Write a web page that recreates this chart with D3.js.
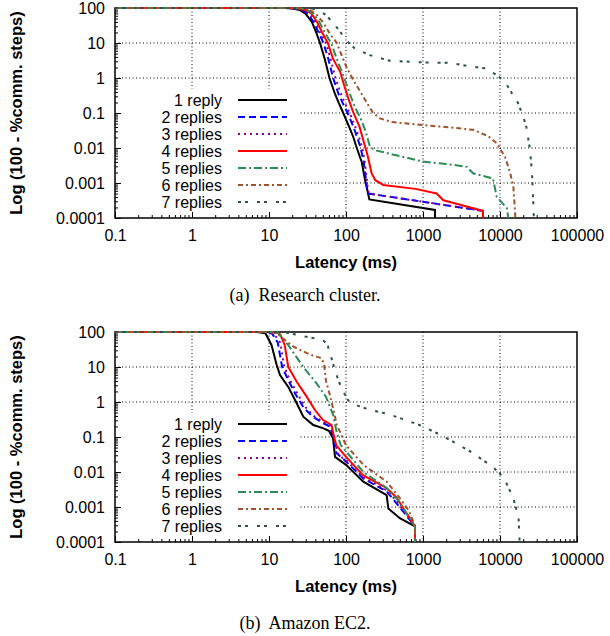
<!DOCTYPE html>
<html>
<head>
<meta charset="utf-8">
<script src="https://cdn.jsdelivr.net/npm/d3@7"></script>
<style>
  body { margin: 0; background: #fff; }
  svg text { font-family: "Liberation Sans", Arial, sans-serif; }
</style>
</head>
<body>
<svg id="chart" width="610" height="636"></svg>
<script>
// ── Data ──
const seriesNames = ['1 reply', '2 replies', '3 replies', '4 replies', '5 replies', '6 replies', '7 replies'];
const xTicks = [0.1, 1, 10, 100, 1000, 10000, 100000];
const xLabels = ['0.1', '1', '10', '100', '1000', '10000', '100000'];
const yTicks = [100, 10, 1, 0.1, 0.01, 0.001, 0.0001];
const yLabels = ['100', '10', '1', '0.1', '0.01', '0.001', '0.0001'];

// (a) research cluster: [latency ms, 100 - % comm. steps]
const research1 = [[0.1,100],[16,100],[20,97],[25,88],[30,68],[36,40],[41,20],[46,10],[53,3.5],[61,1],[72,0.35],[80,0.2],[92,0.1],[110,0.04],[125,0.02],[138,0.01],[160,0.004],[177,0.0012],[190,0.0006],[201,0.00034],[1430,0.00017],[1430,0.0001]];
const research2 = [[0.1,100],[17,100],[21,97],[27,88],[32,68],[38,40],[44,20],[51,10],[59,3.5],[68,1],[80,0.35],[92,0.18],[105,0.1],[125,0.04],[140,0.02],[155,0.01],[170,0.004],[180,0.0015],[188,0.0007],[195,0.0005],[6000,0.00016],[6000,0.0001]];
const research3 = [[0.1,100],[18,100],[22,97],[28,88],[34,68],[40,40],[46,20],[55,10],[63,3.5],[73,1],[86,0.35],[98,0.18],[112,0.1],[132,0.04],[148,0.02],[163,0.01],[175,0.004],[185,0.0015],[192,0.0007],[198,0.0005],[6000,0.00016],[6000,0.0001]];
const research4 = [[0.1,100],[19,100],[24,97],[30,88],[36,68],[42,40],[49,20],[58,10],[68,3.5],[84,1.5],[95,0.6],[108,0.25],[125,0.1],[150,0.04],[170,0.015],[185,0.008],[195,0.005],[205,0.003],[215,0.0019],[240,0.0012],[305,0.00088],[800,0.00068],[1500,0.0005],[1840,0.00032],[6000,0.00016],[6000,0.0001]];
const research5 = [[0.1,100],[20,100],[25,97],[31,88],[38,68],[45,40],[53,20],[64,10],[76,3.5],[92,1.2],[110,0.4],[130,0.15],[155,0.07],[180,0.03],[204,0.011],[230,0.009],[250,0.0084],[1000,0.0041],[2500,0.0033],[3700,0.0029],[4470,0.0019],[8100,0.00135],[9050,0.00041],[12300,0.00019],[12800,0.0001]];
const research6 = [[0.1,100],[22,100],[28,96],[35,85],[43,60],[52,35],[62,18],[76,10],[84,5.7],[100,2.2],[124,0.88],[160,0.35],[200,0.15],[226,0.1],[276,0.07],[400,0.055],[1000,0.045],[2500,0.038],[4470,0.033],[7000,0.022],[9050,0.0136],[11600,0.0056],[13500,0.002],[14900,0.0008],[15700,0.00014],[15800,0.0001]];
const research7 = [[0.1,100],[28,100],[36,97],[45,85],[55,63],[70,35],[84,21],[100,12],[130,7],[204,4.5],[370,3.1],[1000,2.8],[2200,2.7],[4470,2.1],[6300,1.9],[9050,1.22],[11500,0.8],[13500,0.45],[17000,0.2],[20000,0.08],[22000,0.04],[24500,0.009],[26000,0.002],[27000,0.00033],[27500,0.0001]];

// (b) Amazon EC2
const ec2_1 = [[0.1,100],[7,100],[9,92],[10.8,42],[12.5,12],[13.9,5.9],[17.8,2.7],[22.9,0.92],[27.9,0.38],[37.6,0.22],[50,0.18],[60,0.15],[68,0.09],[72,0.027],[100,0.016],[168,0.0053],[337,0.0022],[355,0.0009],[500,0.00048],[787,0.00028],[787,0.0001]];
const ec2_2 = [[0.1,100],[8.5,100],[11,90],[13,50],[14.8,10],[18,4],[22,1.7],[28,0.7],[36,0.4],[50,0.25],[62,0.2],[70,0.08],[75,0.035],[100,0.02],[168,0.0065],[337,0.0028],[450,0.0013],[787,0.00028],[787,0.0001]];
const ec2_3 = [[0.1,100],[9,100],[11.5,90],[14,50],[15.8,10],[19,4],[23.5,1.7],[30,0.7],[38,0.4],[52,0.26],[64,0.21],[72,0.07],[80,0.03],[100,0.022],[168,0.007],[337,0.003],[450,0.0015],[787,0.00028],[787,0.0001]];
const ec2_4 = [[0.1,100],[10,100],[12.7,97],[14,85],[16,42],[17.8,10],[22.9,3.8],[31,1.4],[39.5,0.59],[50,0.31],[65,0.22],[70,0.1],[75,0.058],[100,0.027],[168,0.008],[337,0.0035],[450,0.0019],[787,0.00028],[787,0.0001]];
const ec2_5 = [[0.1,100],[11,100],[13,95],[17.8,42],[27.9,10],[41.5,3.4],[55,1.4],[68,0.43],[75,0.15],[85,0.06],[100,0.039],[168,0.01],[337,0.0035],[450,0.0018],[787,0.00028],[787,0.0001]];
const ec2_6 = [[0.1,100],[10,100],[12.7,92],[16,60],[20.8,38],[31,25],[40,20],[48,18],[52,12],[55,4],[60,2],[65,1],[70,0.5],[76,0.22],[100,0.058],[168,0.016],[337,0.0053],[500,0.0018],[650,0.0008],[787,0.0003],[787,0.0001]];
const ec2_7 = [[0.1,100],[12,100],[16,98],[25,80],[40,65],[52,55],[58,40],[63,22],[70,10],[80,4],[92,2],[110,1],[150,0.75],[204,0.6],[370,0.44],[900,0.22],[1500,0.13],[2450,0.074],[4000,0.04],[5500,0.025],[8000,0.014],[10000,0.009],[12000,0.005],[14900,0.0018],[17400,0.0005],[17800,0.00016],[18000,0.0001]];

// ── Styles ──
const colors = ['#000000', '#0000ff', '#8b008b', '#ff0000', '#2e8b57', '#a0522d', '#2f4f4f'];
const dashes = [null, '7,4', '2,4', null, '8,3,2,3', '5,3,2,3', '3,4,3,9'];

const svg = d3.select('#chart');
const plotH = 210;

function drawPanel(top, data, caption, captionY) {
  const g = svg.append('g').attr('transform', `translate(0,${top})`);

  const x = d3.scaleLog().domain([0.1, 100000]).range([115, 577]);
  const y = d3.scaleLog().domain([0.0001, 100]).range([plotH, 0]);

  // Grid
  g.append('g').selectAll('line').data(xTicks.slice(1, -1)).join('line')
    .attr('x1', d => x(d)).attr('x2', d => x(d))
    .attr('y1', 0).attr('y2', plotH);
  g.append('g').selectAll('line').data(yTicks.slice(1, -1)).join('line')
    .attr('x1', x(0.1)).attr('x2', x(100000))
    .attr('y1', d => y(d)).attr('y2', d => y(d));
  g.selectAll('line')
    .attr('stroke', '#000').attr('stroke-width', 1)
    .attr('stroke-dasharray', '1,2.5');

  // Legend background hides the grid
  g.append('rect').attr('x', x(0.1)).attr('y', 81)
    .attr('width', 183).attr('height', plotH - 81).attr('fill', '#fff');

  // Ticks
  const minorX = [], minorY = [];
  xTicks.slice(0, -1).forEach(d => { for (let k = 2; k < 10; k++) minorX.push(d * k); });
  yTicks.slice(1).forEach(d => { for (let k = 2; k < 10; k++) minorY.push(d * k); });

  g.append('g').attr('transform', `translate(0,${plotH})`)
    .call(d3.axisBottom(x).tickValues(minorX).tickSize(-3).tickFormat(''))
    .call(a => a.select('.domain').remove());
  const xa = g.append('g').attr('transform', `translate(0,${plotH})`)
    .call(d3.axisBottom(x).tickValues(xTicks).tickSize(-6).tickPadding(12)
      .tickFormat((d, i) => xLabels[i]));
  xa.select('.domain').remove();

  g.append('g').attr('transform', `translate(${x(0.1)},0)`)
    .call(d3.axisLeft(y).tickValues(minorY).tickSize(-3).tickFormat(''))
    .call(a => a.select('.domain').remove());
  const ya = g.append('g').attr('transform', `translate(${x(0.1)},0)`)
    .call(d3.axisLeft(y).tickValues(yTicks).tickSize(-6).tickPadding(10)
      .tickFormat((d, i) => yLabels[i]));
  ya.select('.domain').remove();

  g.selectAll('.tick line').attr('stroke', '#000').attr('stroke-width', 1);
  g.selectAll('.tick text').attr('font-size', 16).attr('fill', '#000')
    .attr('font-family', '"Liberation Sans", Arial, sans-serif');

  // Frame
  g.append('rect').attr('x', x(0.1)).attr('y', 0)
    .attr('width', x(100000) - x(0.1)).attr('height', plotH)
    .attr('fill', 'none').attr('stroke', '#000').attr('stroke-width', 1.5);

  // Curves
  const line = d3.line().x(d => x(d[0])).y(d => y(d[1]));
  data.forEach((s, i) => {
    g.append('path').datum(s)
      .attr('d', line)
      .attr('fill', 'none')
      .attr('stroke', colors[i])
      .attr('stroke-width', 2)
      .attr('stroke-dasharray', dashes[i]);
  });

  // Legend
  const lg = g.append('g').selectAll('g').data(seriesNames).join('g')
    .attr('transform', (d, i) => `translate(0,${92 + i * 17})`);
  lg.append('text').attr('x', 222).attr('dy', '0.35em')
    .attr('text-anchor', 'end').attr('font-size', 16).text(d => d);
  lg.append('line').attr('x1', 238).attr('x2', 287)
    .attr('stroke', (d, i) => colors[i]).attr('stroke-width', 2)
    .attr('stroke-dasharray', (d, i) => dashes[i]);

  // Axis titles
  g.append('text').attr('x', (x(0.1) + x(100000)) / 2).attr('y', 260)
    .attr('text-anchor', 'middle').attr('font-size', 16.5).attr('font-weight', 'bold')
    .text('Latency (ms)');
  g.append('text').attr('transform', `translate(22,${plotH / 2}) rotate(-90)`)
    .attr('text-anchor', 'middle').attr('font-size', 16.5).attr('font-weight', 'bold')
    .text('Log (100 - %comm. steps)');

  // Caption
  svg.append('text').attr('x', 305).attr('y', captionY)
    .attr('text-anchor', 'middle').attr('font-size', 18)
    .style('font-family', '"Liberation Serif", "Times New Roman", serif')
    .attr('xml:space', 'preserve')
    .text(caption);
}

drawPanel(8, [research1, research2, research3, research4, research5, research6, research7],
  '(a)  Research cluster.', 301);
drawPanel(332, [ec2_1, ec2_2, ec2_3, ec2_4, ec2_5, ec2_6, ec2_7],
  '(b)  Amazon EC2.', 629);
</script>
</body>
</html>
